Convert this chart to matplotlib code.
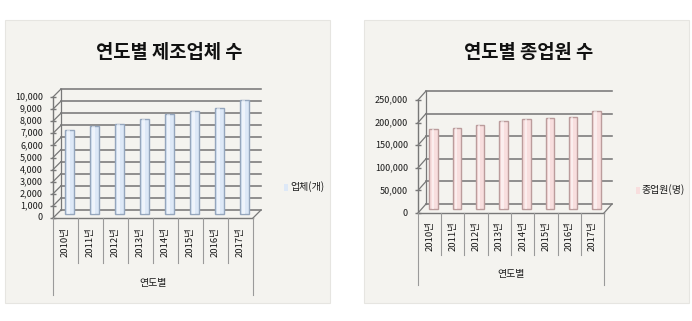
import matplotlib
matplotlib.use("Agg")
import matplotlib.pyplot as plt
import matplotlib.transforms as mtransforms
from matplotlib.patches import Rectangle
import numpy as np

plt.rcParams['font.family'] = ['Noto Sans CJK KR', 'DejaVu Sans']

# ---------- data ----------
years = ["2010년", "2011년", "2012년", "2013년", "2014년", "2015년", "2016년", "2017년"]
companies = [6950, 7300, 7420, 7860, 8240, 8500, 8800, 9420]
employees = [175000, 179000, 185700, 194500, 197400, 199600, 203000, 216500]

W, H = 692, 321
fig = plt.figure(figsize=(W / 100, H / 100), dpi=100, facecolor="white")


def px_box(x0, y_top, x1, y_bot):
    """pixel box (top-left origin) -> figure fraction rect"""
    return [x0 / W, (H - y_bot) / H, (x1 - x0) / W, (y_bot - y_top) / H]


def panel(box, title, title_xy, values, ticks, ymax, ax_box, depth,
          face, edge, legend_label, legend_xy, xlabel_x):
    # panel background
    fig.patches.append(Rectangle((box[0] / W, (H - box[3]) / H),
                                 (box[2] - box[0]) / W, (box[3] - box[1]) / H,
                                 transform=fig.transFigure, facecolor="#f4f3ef",
                                 edgecolor="#e6e5e1", linewidth=0.8, zorder=-5))
    fig.text(title_xy[0] / W, 1 - title_xy[1] / H, title, ha="center", va="center",
             fontsize=13.5, fontweight="bold", color="#111111")

    ax = fig.add_axes(px_box(*ax_box))
    ax.set_xlim(-0.5, len(values) - 0.5)
    ax.set_ylim(0, ymax)
    ax.axis("off")

    dx, dy = depth
    back = mtransforms.offset_copy(ax.transData, fig=fig, x=dx, y=dy, units="dots")
    mid = mtransforms.offset_copy(ax.transData, fig=fig, x=dx / 2, y=dy / 2, units="dots")
    x0, x1 = -0.5, len(values) - 0.5
    gc = "#787878"

    # back wall + side wall grid
    inv = ax.transData.inverted()
    for t in ticks:
        ax.plot([x0, x1], [t, t], color=gc, lw=1.15, transform=back, clip_on=False)
        q0 = inv.transform(ax.transData.transform((x0, t)))
        q1 = inv.transform(back.transform((x0, t)))
        ax.plot([q0[0], q1[0]], [q0[1], q1[1]], color=gc, lw=0.9, clip_on=False)
        ax.text(-0.5, t, f"{t:,}", transform=mtransforms.offset_copy(
            ax.transData, fig=fig, x=-10, y=0, units="dots"),
            ha="right", va="center", fontsize=6.5, color="#1a1a1a")
        ax.plot([x0], [t], marker=(2, 0, 90), ms=4, color=gc, clip_on=False)
    ax.plot([x0, x0], [0, ticks[-1]], color=gc, lw=0.9, transform=back, clip_on=False)
    ax.plot([x0, x0], [0, ticks[-1]], color=gc, lw=1.0, clip_on=False)
    # floor
    ax.plot([x0, x1], [0, 0], color=gc, lw=1.0, clip_on=False)
    pr = inv.transform(back.transform((x1, 0)))
    ax.plot([x1, pr[0]], [0, pr[1]], color=gc, lw=0.9, clip_on=False)

    # bars
    xs = np.arange(len(values))
    ax.bar(xs, values, width=0.36, color=face, edgecolor=edge, linewidth=1.0,
           transform=mid, zorder=3, clip_on=False)
    ax.bar(xs - 0.04, values, width=0.1, color="white", alpha=0.5,
           linewidth=0, transform=mid, zorder=4, clip_on=False)

    # category axis boxes
    xt = ax.get_xaxis_transform()
    for k in range(len(values) + 1):
        yb = -0.64 if k in (0, len(values)) else -0.37
        ax.plot([k - 0.5, k - 0.5], [0, yb], color="#9a9a9a", lw=0.8,
                transform=xt, clip_on=False)
    for k, lab in enumerate(years):
        ax.text(k, -0.075, lab, rotation=90, ha="center", va="top", transform=xt,
                fontsize=6.8, color="#1a1a1a")
    ax.text(xlabel_x, -0.54, "연도별", ha="center", va="center", transform=xt,
            fontsize=7.2, color="#1a1a1a")

    # legend
    fig.patches.append(Rectangle(((legend_xy[0] - 2) / W, 1 - (legend_xy[1] + 3.5) / H),
                                 4 / W, 7 / H, transform=fig.transFigure,
                                 facecolor=face, edgecolor="none"))
    fig.text((legend_xy[0] + 4) / W, 1 - legend_xy[1] / H, legend_label,
             ha="left", va="center", fontsize=7.2, color="#1a1a1a")
    return ax


panel((5, 20, 330, 303), "연도별 제조업체 수", (169, 52), companies,
      list(range(0, 10001, 1000)), 10000, (53, 97, 253, 218), (8, 8),
      "#dde8f7", "#95a6bd", "업체(개)", (286, 187), 3.5)

panel((364, 20, 689, 303), "연도별 종업원 수", (529, 53), employees,
      list(range(0, 250001, 50000)), 250000, (418, 100, 604, 213), (8, 9),
      "#f8dede", "#bb9c9c", "종업원(명)", (638, 190), 3.5)

fig.savefig("out.png", dpi=100, facecolor="white")
